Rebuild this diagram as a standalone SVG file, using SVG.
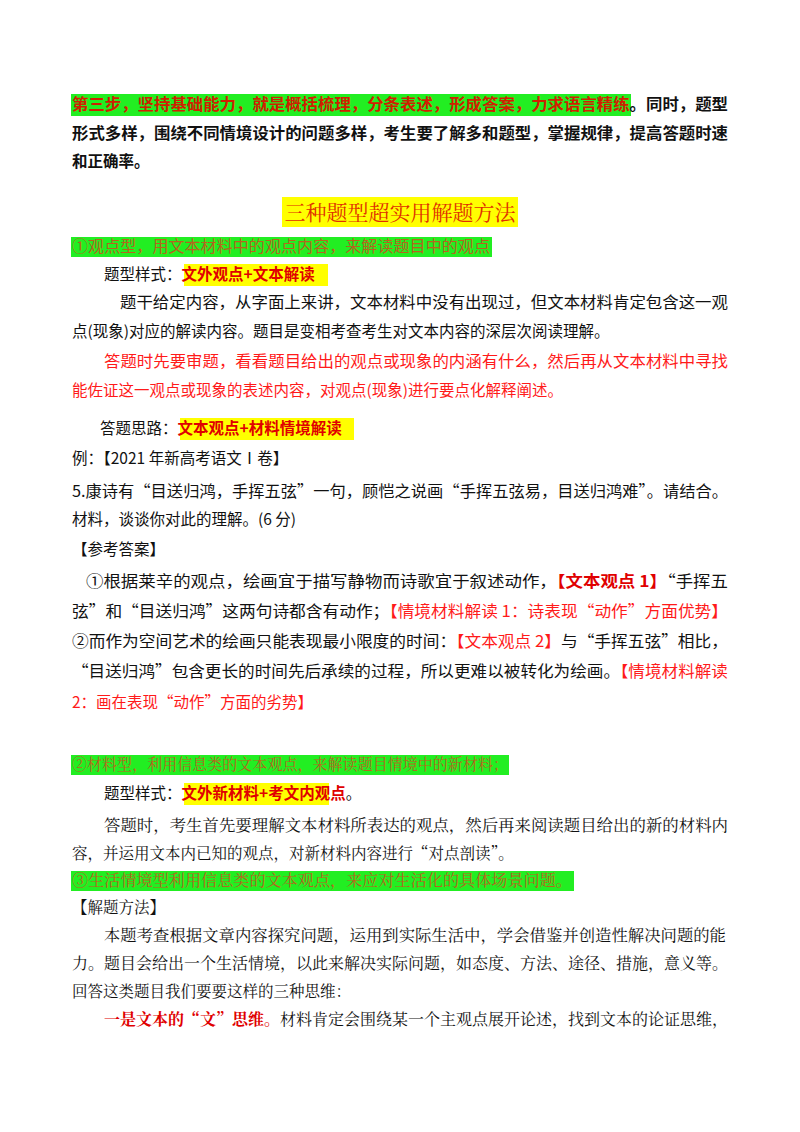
<svg xmlns="http://www.w3.org/2000/svg" width="800" height="1132" viewBox="0 0 800 1132">
<style>
text{font-family:"Noto Sans CJK SC","Noto Sans",sans-serif;font-size:15.5px;fill:#111}
.b{font-weight:bold}
.r{fill:#ff1a1a}
.rb{fill:#e00000;font-weight:bold}
.g{fill:#b5651d}
.s{font-family:"Noto Serif CJK SC","Noto Sans CJK SC",serif}
</style>
<rect width="800" height="1132" fill="#fff"/>
<rect x="71" y="94" width="560" height="22" fill="#22ee22"/>
<text x="72" y="110" class="b" textLength="656" lengthAdjust="spacingAndGlyphs"><tspan fill="#d02000">第三步，坚持基础能力，就是概括梳理，分条表述，形成答案，力求语言精练</tspan>。同时，题型</text>
<text x="72" y="139" class="b" textLength="656" lengthAdjust="spacingAndGlyphs">形式多样，围绕不同情境设计的问题多样，考生要了解多和题型，掌握规律，提高答题时速</text>
<text x="72" y="167" class="b">和正确率。</text>
<rect x="282" y="197" width="236" height="30" fill="#ffff00"/>
<text x="400" y="220" text-anchor="middle" style="font-size:21px;fill:#e03000" class="s">三种题型超实用解题方法</text>
<rect x="71" y="237" width="421" height="20" fill="#22ee22"/>
<text x="72" y="252" class="g" textLength="418" lengthAdjust="spacingAndGlyphs">①观点型，用文本材料中的观点内容，来解读题目中的观点</text>
<rect x="184" y="264" width="144" height="22" fill="#ffff00"/>
<text x="104" y="280">题型样式：<tspan class="rb">文外观点+文本解读</tspan></text>
<text x="120" y="308" textLength="608" lengthAdjust="spacingAndGlyphs">题干给定内容，从字面上来讲，文本材料中没有出现过，但文本材料肯定包含这一观</text>
<text x="72" y="337">点(现象)对应的解读内容。题目是变相考查考生对文本内容的深层次阅读理解。</text>
<text x="104" y="367" class="r" textLength="624" lengthAdjust="spacingAndGlyphs">答题时先要审题，看看题目给出的观点或现象的内涵有什么，然后再从文本材料中寻找</text>
<text x="72" y="396" class="r">能佐证这一观点或现象的表述内容，对观点(现象)进行要点化解释阐述。</text>
<rect x="180" y="418" width="174" height="22" fill="#ffff00"/>
<text x="100" y="434">答题思路：<tspan class="rb">文本观点+材料情境解读</tspan></text>
<text x="72" y="464">例：【2021 年新高考语文Ⅰ卷】</text>
<text x="72" y="497" textLength="656" lengthAdjust="spacingAndGlyphs">5.康诗有“目送归鸿，手挥五弦”一句，顾恺之说画“手挥五弦易，目送归鸿难”。请结合。</text>
<text x="72" y="525">材料，谈谈你对此的理解。(6 分)</text>
<text x="72" y="555">【参考答案】</text>
<text x="86" y="587" textLength="642" lengthAdjust="spacingAndGlyphs">①根据莱辛的观点，绘画宜于描写静物而诗歌宜于叙述动作，<tspan class="rb">【文本观点 1】</tspan>“手挥五</text>
<text x="72" y="617" textLength="656" lengthAdjust="spacingAndGlyphs">弦”和“目送归鸿”这两句诗都含有动作；<tspan class="r">【情境材料解读 1：诗表现“动作”方面优势】</tspan></text>
<text x="72" y="647" textLength="656" lengthAdjust="spacingAndGlyphs">②而作为空间艺术的绘画只能表现最小限度的时间：<tspan class="r">【文本观点 2】</tspan>与“手挥五弦”相比，</text>
<text x="72" y="677" textLength="656" lengthAdjust="spacingAndGlyphs">“目送归鸿”包含更长的时间先后承续的过程，所以更难以被转化为绘画。<tspan class="r">【情境材料解读</tspan></text>
<text x="72" y="708" class="r">2：画在表现“动作”方面的劣势】</text>
<rect x="71" y="755" width="438" height="20" fill="#22ee22"/>
<text x="72" y="770" class="g s" textLength="436" lengthAdjust="spacingAndGlyphs">②材料型，利用信息类的文本观点，来解读题目情境中的新材料；</text>
<rect x="184" y="783" width="145" height="22" fill="#ffff00"/>
<text x="104" y="799">题型样式：<tspan class="rb">文外新材料+考文内观点</tspan>。</text>
<text x="104" y="831" class="s" textLength="624" lengthAdjust="spacingAndGlyphs">答题时，考生首先要理解文本材料所表达的观点，然后再来阅读题目给出的新的材料内</text>
<text x="72" y="859" class="s">容，并运用文本内已知的观点，对新材料内容进行“对点剖读”。</text>
<rect x="71" y="871" width="503" height="20" fill="#22ee22"/>
<text x="72" y="886" class="g s" textLength="500" lengthAdjust="spacingAndGlyphs">③生活情境型利用信息类的文本观点，来应对生活化的具体场景问题。</text>
<text x="72" y="913" class="s">【解题方法】</text>
<text x="104" y="941" class="s" textLength="622" lengthAdjust="spacingAndGlyphs">本题考查根据文章内容探究问题，运用到实际生活中，学会借鉴并创造性解决问题的能</text>
<text x="72" y="969" class="s" textLength="656" lengthAdjust="spacingAndGlyphs">力。题目会给出一个生活情境，以此来解决实际问题，如态度、方法、途径、措施，意义等。</text>
<text x="72" y="997" class="s">回答这类题目我们要要这样的三种思维：</text>
<text x="104" y="1025" class="s" textLength="624" lengthAdjust="spacingAndGlyphs"><tspan class="rb">一是文本的“文”思维。</tspan>材料肯定会围绕某一个主观点展开论述，找到文本的论证思维，</text>
</svg>
